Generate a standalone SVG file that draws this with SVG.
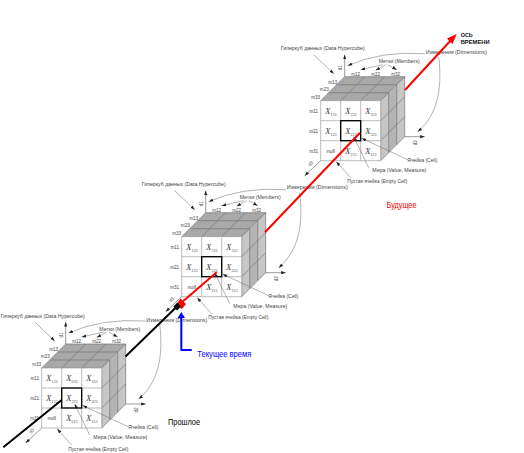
<svg xmlns="http://www.w3.org/2000/svg" width="524" height="453" viewBox="0 0 524 453">
<style>
text{font-family:"Liberation Sans",Arial,sans-serif;font-size:5px;fill:#444}
.m{text-anchor:middle;font-size:4.6px}
.x{font-family:"Liberation Serif","Times New Roman",serif;font-style:italic;font-size:9px;fill:#444;text-anchor:middle}
.x tspan{font-size:4px;font-style:normal}
.n{font-size:5.4px;text-anchor:middle;fill:#444}
.cell{fill:#fff;stroke:#aaa;stroke-width:.8}
.top{fill:#a8a8a8;stroke:#777;stroke-width:.7}
.side{fill:#c6c6c6;stroke:#777;stroke-width:.7}
.strip{fill:#b4b4b4;stroke:none}
.grid{fill:none;stroke:#777;stroke-width:.7}
.lead{fill:none;stroke:#666;stroke-width:.5}
.arr{marker-end:url(#a)}
.ax{fill:none;stroke:#333;stroke-width:.5;marker-end:url(#a)}
.hl{fill:none;stroke:#000;stroke-width:1.3}
.big{font-size:9px;fill:#000}
</style>
<defs>
<marker id="a" markerWidth="5" markerHeight="4" refX="4.5" refY="2" orient="auto" markerUnits="userSpaceOnUse"><path d="M0 .4L4.5 2L0 3.6z" fill="#222"/></marker>
<g id="cube">
<path class="top" d="M0 0L24-24H84L60 0z"/>
<path class="side" d="M60 0L84-24V36L60 60z"/>
<path class="strip" d="M68-8L76-16V44L68 52z"/>
<path class="grid" d="M20 0L44-24M40 0L64-24M8-8H68M16-16H76M60 20L84-4M60 40L84 16M68-8V52M76-16V44"/>
<path class="cell" d="M0 0H60V60H0zM20 0V60M40 0V60M0 20H60M0 40H60"/>
<rect class="hl" x="20" y="20" width="20" height="20"/>
<path class="ax" d="M24-24V-46"/>
<path class="ax" d="M84 36H104"/>
<path class="ax" d="M0 60L-16 75"/>
</g>
<g id="leaders">
<path class="lead arr" d="M-7-46L13-27"/>
<path class="lead arr" d="M62-36L40-31"/>
<path class="lead arr" d="M65-36L55-30.5"/>
<path class="lead arr" d="M67-36L76-31"/>
<path class="lead arr" d="M104-47Q60-50 27-35"/>
<path class="lead arr" d="M118-44C122-10 116 15 97 31"/>
<path class="lead arr" d="M87 59L41 37.5"/>
<path class="lead arr" d="M48 67L33 36"/>
<path class="lead arr" d="M30 77L15.5 61"/>
</g>
</defs>
<g id="cube-past" transform="translate(41.7 368)">
<use href="#cube"/>
<text x="-41" y="-50" textLength="84" lengthAdjust="spacingAndGlyphs">Гиперкуб данных (Data Hypercube)</text>
<text x="57.6" y="-37" textLength="41" lengthAdjust="spacingAndGlyphs">Метки (Members)</text>
<text x="104.5" y="-46" textLength="61" lengthAdjust="spacingAndGlyphs">Измерения (Dimensions)</text>
<text class="m" x="35" y="-25">m12</text><text class="m" x="55" y="-25">m22</text><text class="m" x="75" y="-25">m32</text>
<text class="m" x="12" y="-17">m13</text><text class="m" x="3.6" y="-10">m23</text><text class="m" x="-5" y="-2">m33</text>
<text class="m" x="-7" y="12">m11</text><text class="m" x="-7" y="32">m21</text><text class="m" x="-7" y="52">m31</text>
<text class="x" x="10" y="13">X<tspan dy="2">133</tspan></text><text class="x" x="30" y="13">X<tspan dy="2">233</tspan></text><text class="x" x="50" y="13">X<tspan dy="2">333</tspan></text>
<text class="x" x="10" y="33">X<tspan dy="2">123</tspan></text><text class="x" x="30" y="33">X<tspan dy="2">223</tspan></text><text class="x" x="50" y="33">X<tspan dy="2">323</tspan></text>
<text class="n" x="10" y="52">null</text><text class="x" x="30" y="53">X<tspan dy="2">213</tspan></text><text class="x" x="50" y="53">X<tspan dy="2">313</tspan></text>
<text class="m" transform="translate(21 -33) rotate(-90)">d1</text>
<text class="m" transform="translate(96 42) rotate(-90)">d2</text>
<text class="m" transform="translate(-9 64) rotate(-45)">d3</text>
<text x="86.6" y="61" textLength="30" lengthAdjust="spacingAndGlyphs">Ячейка (Cell)</text>
<text x="51.6" y="71" textLength="54" lengthAdjust="spacingAndGlyphs">Мера (Value, Measure)</text>
<text x="26.6" y="82.5" textLength="60" lengthAdjust="spacingAndGlyphs">Пустая ячейка (Empty Cell)</text>
</g>
<g id="cube-present" transform="translate(181.7 236.7)">
<use href="#cube"/>
<text x="-40" y="-51" textLength="84" lengthAdjust="spacingAndGlyphs">Гиперкуб данных (Data Hypercube)</text>
<text x="58" y="-38" textLength="41" lengthAdjust="spacingAndGlyphs">Метки (Members)</text>
<text x="105" y="-48" textLength="61" lengthAdjust="spacingAndGlyphs">Измерения (Dimensions)</text>
<text class="m" x="35" y="-25">m12</text><text class="m" x="55" y="-25">m22</text><text class="m" x="75" y="-25">m32</text>
<text class="m" x="12" y="-17">m13</text><text class="m" x="3.6" y="-10">m23</text><text class="m" x="-5" y="-2">m33</text>
<text class="m" x="-7" y="12">m11</text><text class="m" x="-7" y="32">m21</text><text class="m" x="-7" y="52">m31</text>
<text class="x" x="10" y="13">X<tspan dy="2">133</tspan></text><text class="x" x="30" y="13">X<tspan dy="2">233</tspan></text><text class="x" x="50" y="13">X<tspan dy="2">333</tspan></text>
<text class="x" x="10" y="33">X<tspan dy="2">123</tspan></text><text class="x" x="30" y="33">X<tspan dy="2">223</tspan></text><text class="x" x="50" y="33">X<tspan dy="2">323</tspan></text>
<text class="n" x="10" y="52">null</text><text class="x" x="30" y="53">X<tspan dy="2">213</tspan></text><text class="x" x="50" y="53">X<tspan dy="2">313</tspan></text>
<text class="m" transform="translate(21 -33) rotate(-90)">d1</text>
<text class="m" transform="translate(96 42) rotate(-90)">d2</text>
<text class="m" transform="translate(-9 64) rotate(-45)">d3</text>
<text x="86.6" y="61" textLength="30" lengthAdjust="spacingAndGlyphs">Ячейка (Cell)</text>
<text x="51.6" y="71" textLength="54" lengthAdjust="spacingAndGlyphs">Мера (Value, Measure)</text>
<text x="26.6" y="82.5" textLength="60" lengthAdjust="spacingAndGlyphs">Пустая ячейка (Empty Cell)</text>
</g>
<g id="cube-future" transform="translate(320.7 100.7)">
<use href="#cube"/>
<text x="-40" y="-50.4" textLength="84" lengthAdjust="spacingAndGlyphs">Гиперкуб данных (Data Hypercube)</text>
<text x="58" y="-38" textLength="41" lengthAdjust="spacingAndGlyphs">Метки (Members)</text>
<text x="105" y="-47" textLength="61" lengthAdjust="spacingAndGlyphs">Измерения (Dimensions)</text>
<text class="m" x="35" y="-25">m12</text><text class="m" x="55" y="-25">m22</text><text class="m" x="75" y="-25">m32</text>
<text class="m" x="12" y="-17">m13</text><text class="m" x="3.6" y="-10">m23</text><text class="m" x="-5" y="-2">m33</text>
<text class="m" x="-7" y="12">m11</text><text class="m" x="-7" y="32">m21</text><text class="m" x="-7" y="52">m31</text>
<text class="x" x="10" y="13">X<tspan dy="2">133</tspan></text><text class="x" x="30" y="13">X<tspan dy="2">233</tspan></text><text class="x" x="50" y="13">X<tspan dy="2">333</tspan></text>
<text class="x" x="10" y="33">X<tspan dy="2">123</tspan></text><text class="x" x="30" y="33">X<tspan dy="2">223</tspan></text><text class="x" x="50" y="33">X<tspan dy="2">323</tspan></text>
<text class="n" x="10" y="52">null</text><text class="x" x="30" y="53">X<tspan dy="2">213</tspan></text><text class="x" x="50" y="53">X<tspan dy="2">313</tspan></text>
<text class="m" transform="translate(21 -33) rotate(-90)">d1</text>
<text class="m" transform="translate(96 42) rotate(-90)">d2</text>
<text class="m" transform="translate(-9 64) rotate(-45)">d3</text>
<text x="86.6" y="61" textLength="30" lengthAdjust="spacingAndGlyphs">Ячейка (Cell)</text>
<text x="51.6" y="71" textLength="54" lengthAdjust="spacingAndGlyphs">Мера (Value, Measure)</text>
<text x="26.6" y="82.5" textLength="60" lengthAdjust="spacingAndGlyphs">Пустая ячейка (Empty Cell)</text>
</g>
<g id="connectors">
<use href="#leaders" transform="translate(41.7 368)"/>
<use href="#leaders" transform="translate(181.7 236.7)"/>
<use href="#leaders" transform="translate(320.7 100.7)"/>
<g fill="none" stroke-width="2">
<path stroke="#000" d="M3.3 447.3L61.7 400M125.5 356.5L176.7 306.7"/>
<path stroke="#f00" d="M181 303L216.7 272.3M265 232.3L360 132.7M405 90L452 39"/>
</g>
<path fill="#f00" d="M456.7 34L447 38.5L452.5 44z"/>
<path fill="#f00" d="M176 305L180.5 298.5L186 304L182 309z"/>
<path fill="#000" d="M177.3 302.5L181 306.5L177 310.5L173.3 306.5z"/>
<path fill="none" stroke="#00f" stroke-width="2" d="M181.3 316V350H191.7"/>
<path fill="#00f" d="M181.3 312L185 318H177.6z"/>
</g>
<g id="labels">
<text class="big" style="fill:#00f;font-size:8.5px" x="197.3" y="357" textLength="54" lengthAdjust="spacingAndGlyphs">Текущее время</text>
<text class="big" x="168" y="425" textLength="32" lengthAdjust="spacingAndGlyphs">Прошлое</text>
<text class="big" style="fill:#f00" x="386.5" y="208" textLength="30" lengthAdjust="spacingAndGlyphs">Будущее</text>
<text style="font-weight:bold;fill:#111" x="460.7" y="37" textLength="12" lengthAdjust="spacingAndGlyphs">ОСЬ</text>
<text style="font-weight:bold;fill:#111" x="460.7" y="44" textLength="29" lengthAdjust="spacingAndGlyphs">ВРЕМЕНИ</text>
</g>
</svg>
